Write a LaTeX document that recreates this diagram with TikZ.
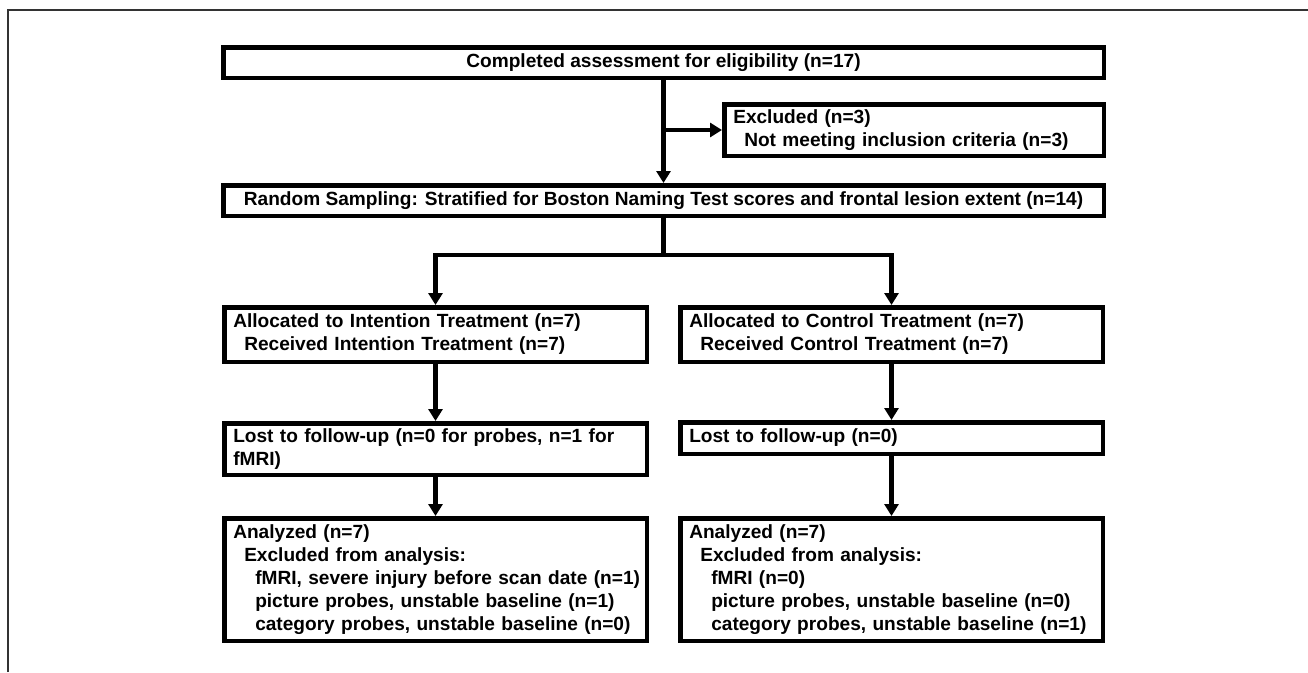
\documentclass[tikz,border=0pt]{standalone}
\usepackage{fontspec}
\setmainfont{Liberation Sans}
\usetikzlibrary{arrows.meta}
\definecolor{framegray}{gray}{0.2}

\begin{document}
\begin{tikzpicture}[x=1pt, y=-1pt,
    box/.style={draw=black, line width=4.5pt, inner xsep=9pt, inner ysep=0pt,
      font=\fontsize{19.1}{23}\selectfont\bfseries},
    lbox/.style={box, align=left, text width=#1},
    flow/.style={line width=4.5pt, -{Triangle[length=12pt,width=14pt]}}]
  \useasboundingbox (0,0) rectangle (1308,672);
  % frame round the figure
  \draw[framegray, line width=1.5pt] (8,672) -- (8,10) -- (1308,10);

  % enrolment
  \node[box, minimum width=880.5pt, minimum height=30.5pt] (assess) at (663.5,62.5)
    {Completed assessment for eligibility (n=17)};
  \node[lbox=361.5pt, minimum height=51.5pt] (excl) at (914,130)
    {Excluded (n=3)\\\hspace*{11pt}Not meeting inclusion criteria (n=3)};
  \node[box, minimum width=880.5pt, minimum height=30.5pt] (rand) at (663.5,200.5)
    {Random Sampling: Stratified for Boston Naming Test scores and frontal lesion extent (n=14)};

  % intention arm
  \node[lbox=404.5pt, minimum height=54.5pt] (allocL) at (435.5,334.5)
    {Allocated to Intention Treatment (n=7)\\\hspace*{11pt}Received Intention Treatment (n=7)};
  \node[lbox=404.5pt, minimum height=51.5pt] (lostL) at (435.5,449)
    {Lost to follow-up (n=0 for probes, n=1 for\\fMRI)};
  \node[lbox=404.5pt, minimum height=122.5pt] (anaL) at (435.5,579.5)
    {Analyzed (n=7)\\
     \hspace*{11pt}Excluded from analysis:\\
     \hspace*{22pt}\mbox{fMRI, severe injury before scan date (n=1)}\\
     \hspace*{22pt}picture probes, unstable baseline (n=1)\\
     \hspace*{22pt}category probes, unstable baseline (n=0)};

  % control arm
  \node[lbox=404.5pt, minimum height=54.5pt] (allocR) at (891.5,334.5)
    {Allocated to Control Treatment (n=7)\\\hspace*{11pt}Received Control Treatment (n=7)};
  \node[lbox=404.5pt, minimum height=31.5pt] (lostR) at (891.5,438)
    {Lost to follow-up (n=0)};
  \node[lbox=404.5pt, minimum height=122.5pt] (anaR) at (891.5,579.5)
    {Analyzed (n=7)\\
     \hspace*{11pt}Excluded from analysis:\\
     \hspace*{22pt}fMRI (n=0)\\
     \hspace*{22pt}picture probes, unstable baseline (n=0)\\
     \hspace*{22pt}category probes, unstable baseline (n=1)};

  % arrows
  \draw[flow] (assess.south) -- (rand.north);
  \draw[flow] (assess.south |- excl.west) -- (excl.west);
  \coordinate (split) at (663.5,255);
  \draw[line width=4.5pt] (rand.south) -- (split);
  \draw[flow] (split) -| (allocL.north);
  \draw[flow] (split) -| (allocR.north);
  \draw[flow] (allocL) -- (lostL);
  \draw[flow] (lostL) -- (anaL);
  \draw[flow] (allocR) -- (lostR);
  \draw[flow] (lostR) -- (anaR);
\end{tikzpicture}
\end{document}
